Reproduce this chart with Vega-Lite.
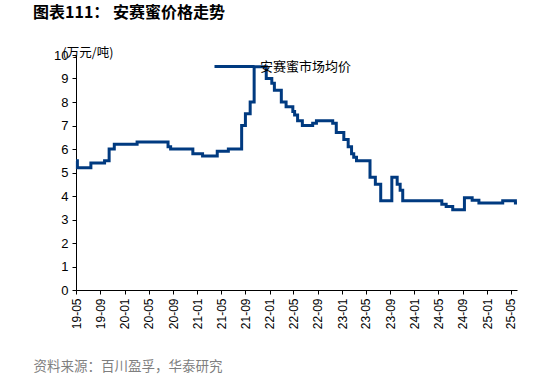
{
  "$schema": "https://vega.github.io/schema/vega-lite/v6.json",
  "width": 441,
  "height": 235,
  "autosize": "none",
  "padding": {"left": 76, "top": 55, "right": 17, "bottom": 88},
  "background": "white",
  "title": {
    "text": "图表111：  安赛蜜价格走势",
    "anchor": "start",
    "frame": "group",
    "dx": -43,
    "offset": 24,
    "font": "Noto Sans CJK SC",
    "fontSize": 16,
    "fontWeight": "bold",
    "color": "#000000"
  },
  "data": {
    "values": [
      {"date": "2019-05-01", "price": 5.5, "series": "安赛蜜市场均价"},
      {"date": "2019-05-08", "price": 5.2, "series": "安赛蜜市场均价"},
      {"date": "2019-07-15", "price": 5.4, "series": "安赛蜜市场均价"},
      {"date": "2019-09-22", "price": 5.5, "series": "安赛蜜市场均价"},
      {"date": "2019-10-15", "price": 6.0, "series": "安赛蜜市场均价"},
      {"date": "2019-11-10", "price": 6.2, "series": "安赛蜜市场均价"},
      {"date": "2020-03-04", "price": 6.3, "series": "安赛蜜市场均价"},
      {"date": "2020-08-07", "price": 6.1, "series": "安赛蜜市场均价"},
      {"date": "2020-08-20", "price": 6.0, "series": "安赛蜜市场均价"},
      {"date": "2020-12-10", "price": 5.8, "series": "安赛蜜市场均价"},
      {"date": "2021-01-28", "price": 5.7, "series": "安赛蜜市场均价"},
      {"date": "2021-04-12", "price": 5.9, "series": "安赛蜜市场均价"},
      {"date": "2021-06-07", "price": 6.0, "series": "安赛蜜市场均价"},
      {"date": "2021-08-13", "price": 7.0, "series": "安赛蜜市场均价"},
      {"date": "2021-09-01", "price": 7.5, "series": "安赛蜜市场均价"},
      {"date": "2021-09-25", "price": 8.0, "series": "安赛蜜市场均价"},
      {"date": "2021-10-15", "price": 9.5, "series": "安赛蜜市场均价"},
      {"date": "2021-12-15", "price": 9.0, "series": "安赛蜜市场均价"},
      {"date": "2022-01-12", "price": 8.8, "series": "安赛蜜市场均价"},
      {"date": "2022-01-25", "price": 8.5, "series": "安赛蜜市场均价"},
      {"date": "2022-03-01", "price": 8.0, "series": "安赛蜜市场均价"},
      {"date": "2022-03-25", "price": 7.8, "series": "安赛蜜市场均价"},
      {"date": "2022-04-28", "price": 7.6, "series": "安赛蜜市场均价"},
      {"date": "2022-05-07", "price": 7.45, "series": "安赛蜜市场均价"},
      {"date": "2022-05-22", "price": 7.2, "series": "安赛蜜市场均价"},
      {"date": "2022-06-15", "price": 7.0, "series": "安赛蜜市场均价"},
      {"date": "2022-08-06", "price": 7.1, "series": "安赛蜜市场均价"},
      {"date": "2022-08-25", "price": 7.2, "series": "安赛蜜市场均价"},
      {"date": "2022-11-15", "price": 7.1, "series": "安赛蜜市场均价"},
      {"date": "2022-12-03", "price": 6.7, "series": "安赛蜜市场均价"},
      {"date": "2023-01-10", "price": 6.4, "series": "安赛蜜市场均价"},
      {"date": "2023-02-01", "price": 6.1, "series": "安赛蜜市场均价"},
      {"date": "2023-02-18", "price": 5.8, "series": "安赛蜜市场均价"},
      {"date": "2023-03-01", "price": 5.65, "series": "安赛蜜市场均价"},
      {"date": "2023-03-15", "price": 5.5, "series": "安赛蜜市场均价"},
      {"date": "2023-05-22", "price": 4.8, "series": "安赛蜜市场均价"},
      {"date": "2023-06-18", "price": 4.5, "series": "安赛蜜市场均价"},
      {"date": "2023-07-15", "price": 3.8, "series": "安赛蜜市场均价"},
      {"date": "2023-09-09", "price": 4.8, "series": "安赛蜜市场均价"},
      {"date": "2023-10-06", "price": 4.5, "series": "安赛蜜市场均价"},
      {"date": "2023-10-21", "price": 4.25, "series": "安赛蜜市场均价"},
      {"date": "2023-11-03", "price": 3.8, "series": "安赛蜜市场均价"},
      {"date": "2024-05-18", "price": 3.65, "series": "安赛蜜市场均价"},
      {"date": "2024-06-09", "price": 3.55, "series": "安赛蜜市场均价"},
      {"date": "2024-07-12", "price": 3.42, "series": "安赛蜜市场均价"},
      {"date": "2024-09-09", "price": 3.93, "series": "安赛蜜市场均价"},
      {"date": "2024-10-18", "price": 3.82, "series": "安赛蜜市场均价"},
      {"date": "2024-11-21", "price": 3.7, "series": "安赛蜜市场均价"},
      {"date": "2025-03-21", "price": 3.8, "series": "安赛蜜市场均价"},
      {"date": "2025-05-24", "price": 3.7, "series": "安赛蜜市场均价"},
      {"date": "2025-06-01", "price": 3.7, "series": "安赛蜜市场均价"}
    ]
  },
  "mark": {"type": "line", "interpolate": "step-after", "strokeWidth": 3},
  "encoding": {
    "x": {
      "field": "date",
      "type": "temporal",
      "scale": {"domain": ["2019-05-01", "2025-06-01"]},
      "axis": {
        "title": "资料来源：百川盈孚，华泰研究",
        "titleFont": "Noto Sans CJK SC",
        "titleFontSize": 13.5,
        "titleFontWeight": "normal",
        "titleColor": "#7f7f7f",
        "titleAnchor": "start",
        "titleAlign": "left",
        "titleBaseline": "middle",
        "titleX": -43,
        "titleY": 76,
        "values": ["2019-05-01", "2019-09-01", "2020-01-01", "2020-05-01", "2020-09-01", "2021-01-01", "2021-05-01", "2021-09-01", "2022-01-01", "2022-05-01", "2022-09-01", "2023-01-01", "2023-05-01", "2023-09-01", "2024-01-01", "2024-05-01", "2024-09-01", "2025-01-01", "2025-05-01"],
        "format": "%y-%m",
        "labelAngle": -90,
        "labelAlign": "right",
        "labelBaseline": "middle",
        "labelFont": "Liberation Sans",
        "labelFontSize": 12,
        "labelColor": "#000000",
        "labelPadding": 4,
        "tickColor": "#000000",
        "tickSize": 4,
        "domainColor": "#000000",
        "grid": false
      }
    },
    "y": {
      "field": "price",
      "type": "quantitative",
      "scale": {"domain": [0, 10], "nice": false},
      "axis": {
        "title": "(万元/吨)",
        "titleFont": "Noto Sans CJK SC",
        "titleFontSize": 12.5,
        "titleFontWeight": "normal",
        "titleColor": "#000000",
        "titleAngle": 0,
        "titleAlign": "left",
        "titleBaseline": "middle",
        "titleX": -14,
        "titleY": -3,
        "values": [0, 1, 2, 3, 4, 5, 6, 7, 8, 9, 10],
        "labelFont": "Liberation Sans",
        "labelFontSize": 13,
        "labelColor": "#000000",
        "labelPadding": 4,
        "tickColor": "#000000",
        "tickSize": 4,
        "domainColor": "#000000",
        "grid": false
      }
    },
    "color": {
      "field": "series",
      "type": "nominal",
      "scale": {"range": ["#003A80"]},
      "legend": {
        "title": null,
        "orient": "none",
        "legendX": 137,
        "legendY": -10,
        "symbolType": "stroke",
        "symbolSize": 1600,
        "symbolStrokeWidth": 3,
        "labelFont": "Noto Sans CJK SC",
        "labelFontSize": 13,
        "labelColor": "#000000",
        "labelOffset": 4
      }
    }
  },
  "config": {
    "view": {"stroke": null}
  }
}
